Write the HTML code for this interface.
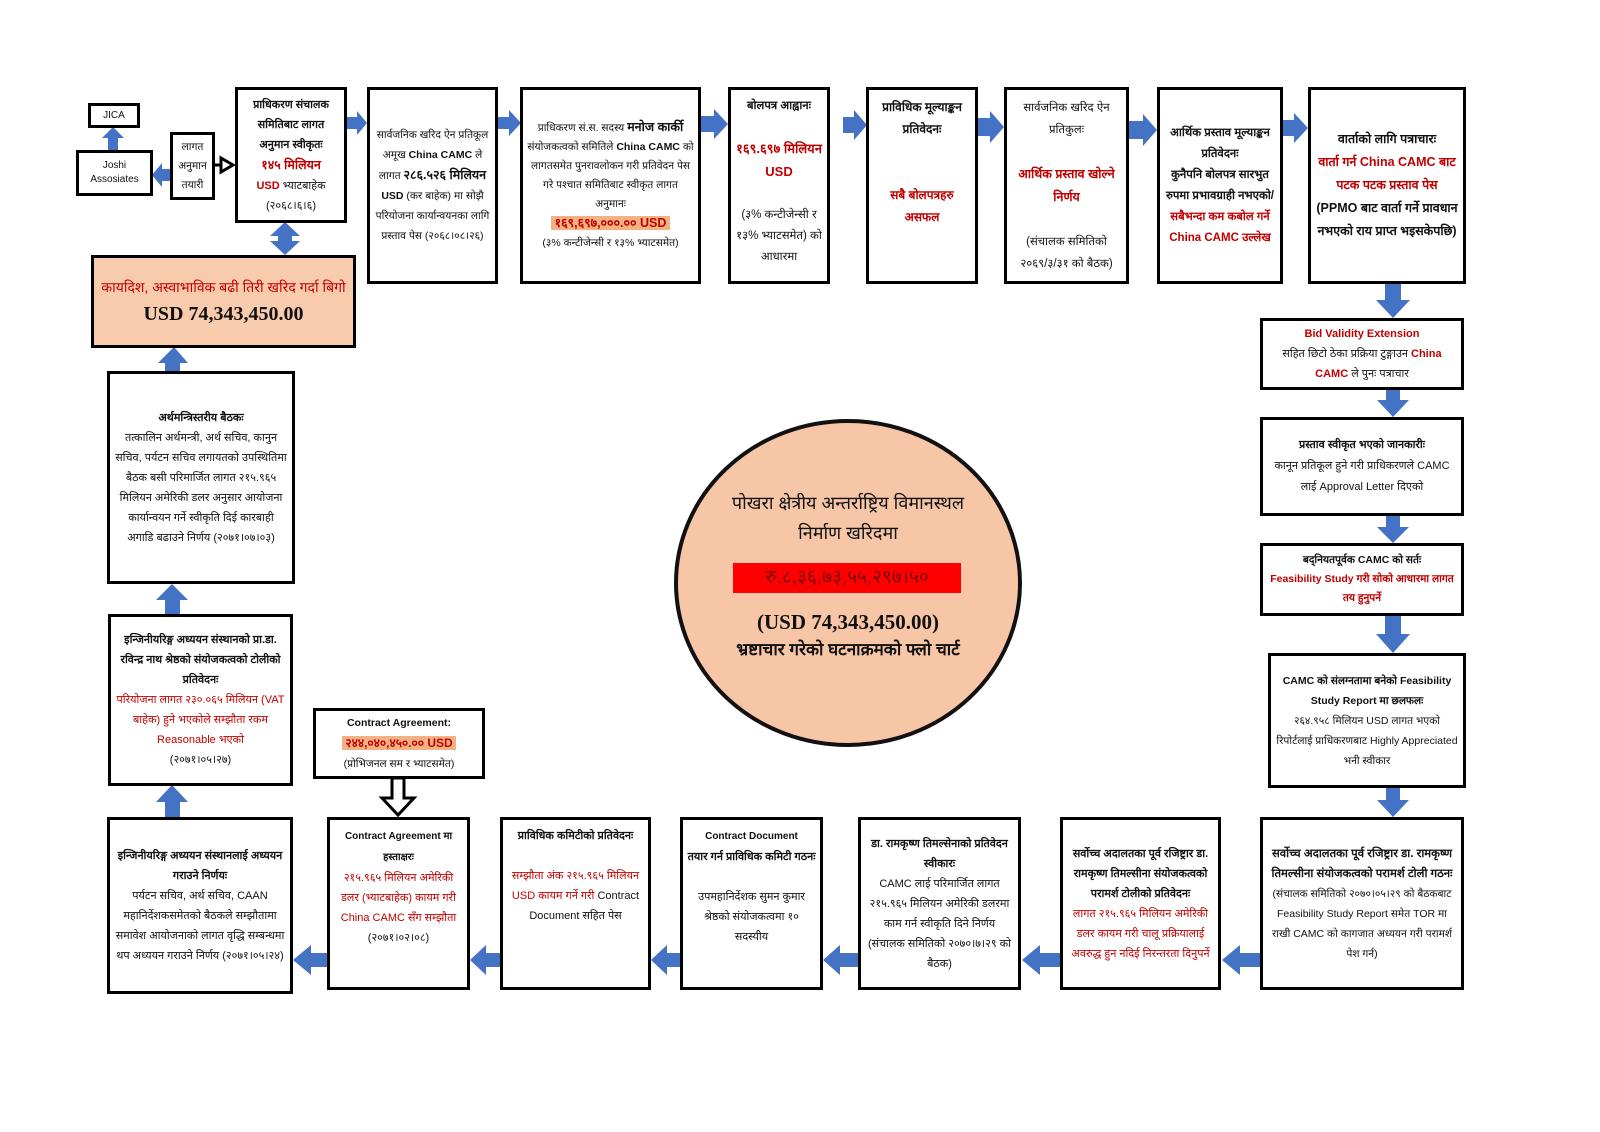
<!DOCTYPE html>
<html><head><meta charset="utf-8"><style>
body{margin:0;width:1600px;height:1132px;background:#fff;position:relative;overflow:hidden;font-family:"Liberation Sans","Noto Sans CJK SC",sans-serif;}
.b{position:absolute;border:3px solid #000;box-sizing:border-box;text-align:center;font-size:11px;line-height:19px;display:flex;align-items:center;justify-content:center;background:#fff;color:#111;padding:2px 4px;}
.b>div{width:100%;}
.t{align-items:flex-start;padding-top:6px;}
.r{color:#c00000;}
.k{font-weight:bold;}
svg{position:absolute;left:0;top:0;}
</style></head><body>
<svg width="1600" height="1132">
<g fill="#4472c4">
<polygon points="347,117 357,117 357,111 367,123 357,135 357,129 347,129"/>
<polygon points="497,117 509,117 509,110 521,123 509,136 509,129 497,129"/>
<polygon points="700,116 714,116 714,109 728,124 714,139 714,132 700,132"/>
<polygon points="843,117 854,117 854,110 867,125 854,140 854,133 843,133"/>
<polygon points="978,118 990,118 990,111 1004,127 990,143 990,136 978,136"/>
<polygon points="1128,121 1143,121 1143,114 1157,130 1143,146 1143,139 1128,139"/>
<polygon points="1282,120 1294,120 1294,113 1308,128 1294,143 1294,136 1282,136"/>
<polygon points="1385,283 1401,283 1401,300 1410,300 1393,318 1376,300 1385,300"/>
<polygon points="1386,389 1400,389 1400,400 1409,400 1393,417 1377,400 1386,400"/>
<polygon points="1386,515 1400,515 1400,527 1409,527 1393,543 1377,527 1386,527"/>
<polygon points="1385,615 1401,615 1401,634 1410,634 1393,653 1376,634 1385,634"/>
<polygon points="1386,787 1400,787 1400,800 1409,800 1393,817 1377,800 1386,800"/>
<polygon points="1260,953 1240,953 1240,945 1222,960 1240,975 1240,967 1260,967"/>
<polygon points="1060,953 1040,953 1040,945 1022,960 1040,975 1040,967 1060,967"/>
<polygon points="858,953 840,953 840,945 823,960 840,975 840,967 858,967"/>
<polygon points="680,953 667,953 667,945 651,960 667,975 667,967 680,967"/>
<polygon points="500,953 486,953 486,945 470,960 486,975 486,967 500,967"/>
<polygon points="327,953 311,953 311,945 293,960 311,975 311,967 327,967"/>
<polygon points="165,817 180,817 180,802 188,802 172,785 156,802 165,802"/>
<polygon points="165,614 180,614 180,600 188,600 172,584 156,600 165,600"/>
<polygon points="165,371 180,371 180,363 188,363 174,347 158,363 165,363"/>
<polygon points="278,236 270,236 285,222 300,236 292,236 292,241 300,241 285,255 270,241 278,241"/>
<polygon points="170,169 162,169 162,163 152,175 162,187 162,181 170,181"/>
<polygon points="108,150 118,150 118,138 124,138 113,127 102,138 108,138"/>
</g>
<line x1="214" y1="165" x2="222" y2="165" stroke="#000" stroke-width="3"/>
<polygon points="221,158 233,165 221,172" fill="#fff" stroke="#000" stroke-width="3"/>
<polygon points="392,778 404,778 404,798 414,798 398,815 382,798 392,798" fill="#fff" stroke="#000" stroke-width="3"/>
<ellipse cx="848" cy="583" rx="172" ry="162" fill="#f6c6a6" stroke="#111" stroke-width="4"/>
<rect x="733" y="563" width="228" height="30" fill="#ff0000"/>
</svg>

<div class="b" style="left:88px;top:103px;width:52px;height:25px;font-size:10px;padding:0"><div>JICA</div></div>
<div class="b" style="left:76px;top:150px;width:77px;height:46px;font-size:10px;line-height:14px;padding:0"><div>Joshi<br>Assosiates</div></div>
<div class="b" style="left:170px;top:132px;width:45px;height:68px;font-size:10.5px;line-height:19px;padding:0"><div>लागत<br>अनुमान<br>तयारी</div></div>
<div class="b" style="left:235px;top:87px;width:112px;height:136px;line-height:20px"><div><b>प्राधिकरण संचालक समितिबाट लागत अनुमान स्वीकृतः</b><br><b class="r" style="font-size:12.5px">१४५ मिलियन</b><br><b class="r">USD</b> भ्याटबाहेक<br>(२०६८।६।६)</div></div>
<div class="b" style="left:367px;top:87px;width:131px;height:197px;font-size:10.5px;line-height:20px"><div>सार्वजनिक खरिद ऐन प्रतिकूल अमूख <b>China CAMC</b> ले लागत <b style="font-size:12.5px">२८६.५२६ मिलियन</b> <b>USD</b> (कर बाहेक) मा सोझै परियोजना कार्यान्वयनका लागि प्रस्ताव पेस (२०६८।०८।२६)</div></div>
<div class="b" style="left:520px;top:87px;width:181px;height:197px;font-size:10.5px;line-height:19px"><div>प्राधिकरण सं.स. सदस्य <b style="font-size:12.5px">मनोज कार्की</b> संयोजकत्वको समितिले <b>China CAMC</b> को लागतसमेत पुनरावलोकन गरी प्रतिवेदन पेस गरे पश्चात समितिबाट स्वीकृत लागत अनुमानः<br><span class="r k" style="background:#f4b183;font-size:12.5px;padding:0 4px">१६९,६९७,०००.०० USD</span><br>(३% कन्टीजेन्सी र १३% भ्याटसमेत)</div></div>
<div class="b t" style="left:728px;top:87px;width:102px;height:197px;font-size:11.5px;line-height:21px"><div><b>बोलपत्र आह्वानः</b><br><br><b class="r" style="font-size:13px">१६९.६९७ मिलियन USD</b><br><br>(३% कन्टीजेन्सी र १३% भ्याटसमेत) को आधारमा</div></div>
<div class="b t" style="left:866px;top:87px;width:112px;height:197px;font-size:12px;line-height:22px"><div><b>प्राविधिक मूल्याङ्कन प्रतिवेदनः</b><br><br><br><b class="r">सबै बोलपत्रहरु असफल</b></div></div>
<div class="b" style="left:1004px;top:87px;width:125px;height:197px;font-size:11.5px;line-height:22px"><div>सार्वजनिक खरिद ऐन प्रतिकुलः<br><br><b class="r" style="font-size:12.5px">आर्थिक प्रस्ताव खोल्ने निर्णय</b><br><br>(संचालक समितिको २०६९/३/३१ को बैठक)</div></div>
<div class="b" style="left:1157px;top:87px;width:126px;height:197px;font-size:11.5px;line-height:21px"><div><b>आर्थिक प्रस्ताव मूल्याङ्कन प्रतिवेदनः</b><br><b>कुनैपनि बोलपत्र सारभुत रुपमा प्रभावग्राही नभएको/</b><br><b class="r">सबैभन्दा कम कबोल गर्ने China CAMC उल्लेख</b></div></div>
<div class="b" style="left:1308px;top:87px;width:158px;height:197px;font-size:12.5px;line-height:23px"><div><b>वार्ताको लागि पत्राचारः</b><br><b class="r">वार्ता गर्न China CAMC बाट पटक पटक प्रस्ताव पेस</b><br><b>(PPMO बाट वार्ता गर्ने प्रावधान नभएको राय प्राप्त भइसकेपछि)</b></div></div>

<div class="b" style="left:1260px;top:318px;width:204px;height:72px;font-size:11px;line-height:20px"><div><b class="r">Bid Validity Extension</b><br>सहित छिटो ठेका प्रक्रिया टुङ्गाउन <b class="r">China CAMC</b> ले पुनः पत्राचार</div></div>
<div class="b" style="left:1260px;top:417px;width:204px;height:99px;font-size:11px;line-height:21px"><div><b>प्रस्ताव स्वीकृत भएको जानकारीः</b><br>कानून प्रतिकूल हुने गरी प्राधिकरणले CAMC लाई Approval Letter दिएको</div></div>
<div class="b" style="left:1260px;top:543px;width:204px;height:73px;font-size:10.5px;line-height:19px"><div><b>बद्नियतपूर्वक CAMC को सर्तः</b><br><b class="r">Feasibility Study गरी सोको आधारमा लागत तय हुनुपर्ने</b></div></div>
<div class="b" style="left:1268px;top:653px;width:198px;height:135px;font-size:10.5px;line-height:20px"><div><b>CAMC को संलग्नतामा बनेको Feasibility Study Report मा छलफलः</b><br>२६४.९५८ मिलियन USD लागत भएको रिपोर्टलाई प्राधिकरणबाट Highly Appreciated भनी स्वीकार</div></div>

<div class="b" style="left:1260px;top:817px;width:204px;height:173px;font-size:10.5px;line-height:20px"><div><b style="font-size:11.5px">सर्वोच्च अदालतका पूर्व रजिष्ट्रार डा. रामकृष्ण तिमल्सीना संयोजकत्वको परामर्श टोली गठनः</b><br>(संचालक समितिको २०७०।०५।२९ को बैठकबाट Feasibility Study Report समेत TOR मा राखी CAMC को कागजात अध्ययन गरी परामर्श पेश गर्न)</div></div>
<div class="b" style="left:1060px;top:817px;width:161px;height:173px;font-size:11px;line-height:20px"><div><b>सर्वोच्च अदालतका पूर्व रजिष्ट्रार डा. रामकृष्ण तिमल्सीना संयोजकत्वको परामर्श टोलीको प्रतिवेदनः</b><br><span class="r">लागत २१५.९६५ मिलियन अमेरिकी डलर कायम गरी चालू प्रक्रियालाई अवरुद्ध हुन नदिई निरन्तरता दिनुपर्ने</span></div></div>
<div class="b" style="left:858px;top:817px;width:163px;height:173px;font-size:11px;line-height:20px"><div><b>डा. रामकृष्ण तिमल्सेनाको प्रतिवेदन स्वीकारः</b><br>CAMC लाई परिमार्जित लागत २१५.९६५ मिलियन अमेरिकी डलरमा काम गर्न स्वीकृति दिने निर्णय (संचालक समितिको २०७०।७।२९ को बैठक)</div></div>
<div class="b t" style="left:680px;top:817px;width:143px;height:173px;font-size:11px;line-height:20px"><div><b style="font-size:10px">Contract Document</b><br><b>तयार गर्न प्राविधिक कमिटी गठनः</b><br><br>उपमहानिर्देशक सुमन कुमार श्रेष्ठको संयोजकत्वमा १० सदस्यीय</div></div>
<div class="b t" style="left:500px;top:817px;width:151px;height:173px;font-size:11px;line-height:20px"><div><b>प्राविधिक कमिटीको प्रतिवेदनः</b><br><br><span class="r">सम्झौता अंक २१५.९६५ मिलियन USD कायम गर्ने गरी</span> Contract Document सहित पेस</div></div>
<div class="b t" style="left:327px;top:817px;width:143px;height:173px;font-size:11px;line-height:20px"><div><b style="font-size:10px">Contract Agreement मा हस्ताक्षरः</b><br><span class="r">२१५.९६५ मिलियन अमेरिकी डलर (भ्याटबाहेक) कायम गरी China CAMC सँग सम्झौता</span><br>(२०७१।०२।०८)</div></div>
<div class="b" style="left:107px;top:817px;width:186px;height:177px;font-size:11px;line-height:20px"><div><b>इन्जिनीयरिङ्ग अध्ययन संस्थानलाई अध्ययन गराउने निर्णयः</b><br>पर्यटन सचिव, अर्थ सचिव, CAAN महानिर्देशकसमेतको बैठकले सम्झौतामा समावेश आयोजनाको लागत वृद्धि सम्बन्धमा थप अध्ययन गराउने निर्णय (२०७१।०५।२४)</div></div>
<div class="b" style="left:313px;top:708px;width:172px;height:71px;font-size:10.5px;line-height:20px"><div><b>Contract Agreement:</b><br><span class="r k" style="background:#f4b183;font-size:12px;padding:0 3px">२४४,०४०,४५०.०० USD</span><br>(प्रोभिजनल सम र भ्याटसमेत)</div></div>

<div class="b" style="left:108px;top:614px;width:185px;height:172px;font-size:11px;line-height:20px"><div><b>इन्जिनीयरिङ्ग अध्ययन संस्थानको प्रा.डा. रविन्द्र नाथ श्रेष्ठको संयोजकत्वको टोलीको प्रतिवेदनः</b><br><span class="r">परियोजना लागत २३०.०६५ मिलियन (VAT बाहेक) हुने भएकोले सम्झौता रकम Reasonable भएको</span><br>(२०७१।०५।२७)</div></div>
<div class="b" style="left:107px;top:371px;width:188px;height:213px;font-size:11px;line-height:20px"><div><b>अर्थमन्त्रिस्तरीय बैठकः</b><br>तत्कालिन अर्थमन्त्री, अर्थ सचिव, कानुन सचिव, पर्यटन सचिव लगायतको उपस्थितिमा बैठक बसी परिमार्जित लागत २१५.९६५ मिलियन अमेरिकी डलर अनुसार आयोजना कार्यान्वयन गर्ने स्वीकृति दिई कारबाही अगाडि बढाउने निर्णय (२०७१।०७।०३)</div></div>
<div class="b" style="left:91px;top:255px;width:265px;height:93px;background:#f8cbad;font-size:14px;line-height:24px"><div><span style="color:#c00000">कायदिश, अस्वाभाविक बढी तिरी खरिद गर्दा बिगो</span><br><b style="font-family:'Liberation Serif',serif;font-size:20px;line-height:30px">USD 74,343,450.00</b></div></div>

<div style="position:absolute;left:690px;top:488px;width:316px;text-align:center;font-size:18px;line-height:30px;color:#111">पोखरा क्षेत्रीय अन्तर्राष्ट्रिय विमानस्थल<br>निर्माण खरिदमा</div>
<div style="position:absolute;left:733px;top:563px;width:228px;height:30px;text-align:center;font-size:19px;line-height:30px;color:#7a0000">रु.८,३६,७३,५५,२९७।५०</div>
<div style="position:absolute;left:690px;top:608px;width:316px;text-align:center;font-family:'Liberation Serif',serif;font-weight:bold;font-size:21px;line-height:28px;color:#111">(USD 74,343,450.00)</div>
<div style="position:absolute;left:690px;top:636px;width:316px;text-align:center;font-size:17px;line-height:28px;color:#111;font-weight:bold">भ्रष्टाचार गरेको घटनाक्रमको फ्लो चार्ट</div>
</body></html>
